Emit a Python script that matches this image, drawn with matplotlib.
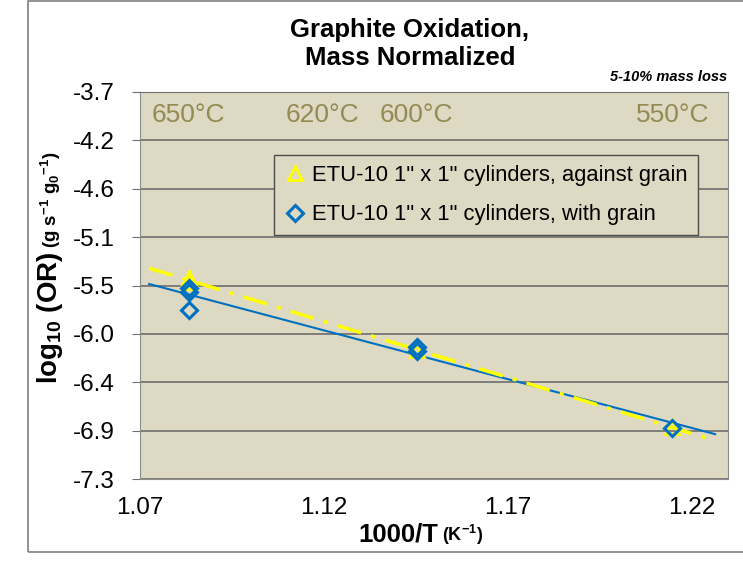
"""Graphite oxidation rate vs inverse temperature (mass normalized)."""

import numpy as np
import matplotlib
matplotlib.use('Agg')
import matplotlib.pyplot as plt
from matplotlib.patches import Rectangle

plt.rcParams['font.family'] = ['Liberation Sans', 'DejaVu Sans']
plt.rcParams['mathtext.fontset'] = 'custom'
plt.rcParams['mathtext.rm'] = 'Liberation Sans:bold'
plt.rcParams['mathtext.bf'] = 'Liberation Sans:bold'
plt.rcParams['mathtext.it'] = 'Liberation Sans:bold:italic'
plt.rcParams['mathtext.default'] = 'rm'

# --- data -------------------------------------------------------------
label_temps_c = [650, 620, 600, 550]

against_temps_c = [650, 650, 600, 550]
against_log_or = [-5.43, -5.47, -6.10, -6.82]

with_temps_c = [650, 650, 650, 600, 600, 550]
with_log_or = [-5.52, -5.56, -5.73, -6.07, -6.11, -6.83]

y_ticks = [-3.7, -4.15, -4.6, -5.05, -5.5, -5.95, -6.4, -6.85, -7.3]
y_tick_labels = ['-3.7', '-4.2', '-4.6', '-5.1', '-5.5', '-6.0', '-6.4', '-6.9', '-7.3']
x_ticks = [1.07, 1.12, 1.17, 1.22]
x_tick_labels = ['1.07', '1.12', '1.17', '1.22']


def inv_t(temps_c):
    return 1000.0 / (np.asarray(temps_c, dtype=float) + 273.15)


# colors (Excel-ish palette)
BG = '#DDD9C3'
GRID = '#6E6E6E'
BLUE = '#0070C0'
YELLOW = '#FFFF00'
OLIVE = '#948A54'

fig = plt.figure(figsize=(7.43, 5.62), dpi=100, facecolor='white')
ax = fig.add_axes([140 / 743, 1 - 479 / 562, 588 / 743, 387 / 562])
ax.set_facecolor(BG)

# chart border
fig.patches.append(Rectangle((28 / 743, 1 - 552 / 562), 1.0, 551 / 562,
                             transform=fig.transFigure, fill=False,
                             edgecolor='#7F7F7F', linewidth=1.2))

# trend lines (linear fit, extended a bit each way)
fit_x = np.array([1.0725, 1.2265])
xa, xw = inv_t(against_temps_c), inv_t(with_temps_c)
pw = np.polyfit(xw, with_log_or, 1)
pa = np.polyfit(xa, against_log_or, 1)
ax.plot(fit_x, np.polyval(pw, fit_x), color=BLUE, lw=1.5, zorder=3)
ax.plot(fit_x, np.polyval(pa, fit_x), color=YELLOW, lw=2.5,
        linestyle=(0, (7, 3, 1.2, 3)), zorder=3)

ax.plot(xa, against_log_or, linestyle='none', marker='^', ms=10,
        mfc='none', mec=YELLOW, mew=2, zorder=4,
        label='ETU-10 1" x 1" cylinders, against grain')
ax.plot(xw, with_log_or, linestyle='none', marker='D', ms=8.5,
        mfc='none', mec=BLUE, mew=2.2, zorder=5,
        label='ETU-10 1" x 1" cylinders, with grain')

# temperature annotations along the top
for t, x in zip(label_temps_c, inv_t(label_temps_c)):
    ax.text(x, -3.91, f'{t}\u00b0C', color=OLIVE, fontsize=19,
            ha='center', va='center', zorder=6)

ax.set_xlim(1.07, 1.23)
ax.set_ylim(-7.3, -3.7)
ax.set_yticks(y_ticks)
ax.set_yticklabels(y_tick_labels, fontsize=17.5)
ax.set_xticks(x_ticks)
ax.set_xticklabels(x_tick_labels, fontsize=17.5)
ax.tick_params(axis='y', length=6, color=GRID, pad=12)
ax.tick_params(axis='x', length=0, pad=13)
ax.grid(axis='y', color=GRID, linewidth=1.2)
ax.set_axisbelow(True)
for side in ['left', 'right', 'bottom']:
    ax.spines[side].set_color('#8C8C8C')
ax.spines['top'].set_color(GRID)

leg = ax.legend(loc='upper left', bbox_to_anchor=(0.228, 0.838),
                fontsize=15.8, frameon=True, fancybox=False,
                handletextpad=0.3, handlelength=1.0, labelspacing=0.85,
                borderpad=0.45, borderaxespad=0)
leg.get_frame().set_facecolor(BG)
leg.get_frame().set_edgecolor('#4D4D4D')
leg.get_frame().set_alpha(1)

# titles and axis labels
fig.text(410 / 743, 1 - 44 / 562, 'Graphite Oxidation,\nMass Normalized',
         ha='center', va='center', fontsize=18.5, fontweight='bold',
         linespacing=1.22)
fig.text(727 / 743, 1 - 77 / 562, '5-10% mass loss', ha='right',
         va='center', fontsize=10.5, fontweight='bold', style='italic')

fig.text(438 / 743, 1 - 541 / 562, '1000/T', ha='right', va='baseline',
         fontsize=18.5, fontweight='bold')
fig.text(442 / 743, 1 - 541 / 562, r'(K$^{-1}$)', ha='left', va='baseline',
         fontsize=13, fontweight='bold')

fig.text(57 / 743, 1 - 250 / 562, r'log$_{10}$ (OR) ', rotation=90,
         rotation_mode='anchor', ha='right', va='baseline',
         fontsize=20, fontweight='bold')
fig.text(57 / 743, 1 - 248 / 562, r'(g s$^{-1}$ g$_{0}$$^{-1}$)', rotation=90,
         rotation_mode='anchor', ha='left', va='baseline',
         fontsize=13.5, fontweight='bold')

fig.savefig('out.png', dpi=100, facecolor='white')
plt.close(fig)
